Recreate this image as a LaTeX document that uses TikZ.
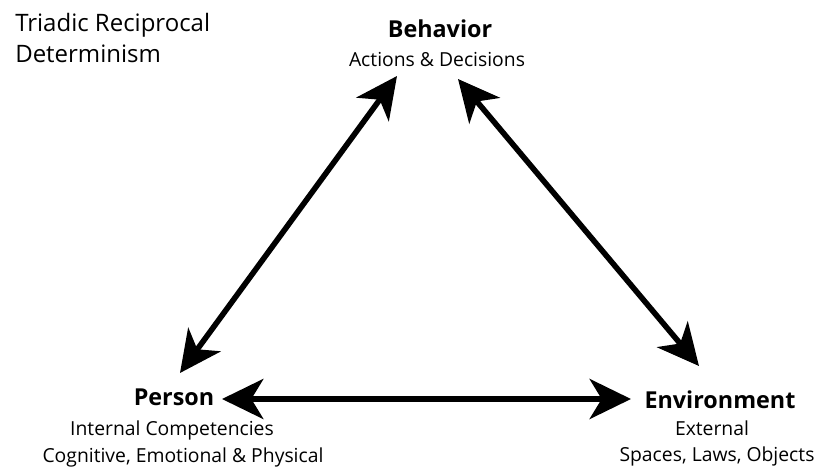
\documentclass[tikz,border=0pt]{standalone}
\usepackage{fontspec}
\setmainfont{Open Sans}
\usetikzlibrary{arrows.meta}
\begin{document}
\begin{tikzpicture}[x=0.75pt,y=-0.75pt,
  lbl/.style={font=\fontsize{14.5}{16}\selectfont, inner sep=0pt, anchor=base},
  ttl/.style={font=\fontsize{18}{16}\selectfont, inner sep=0pt, anchor=base west},
  hd/.style={font=\fontsize{17.5}{17}\selectfont\bfseries, inner sep=0pt, anchor=base},
  dbl/.style={line width=4.2pt, {Stealth[length=31pt,width=30pt,inset=9pt]}-{Stealth[length=31pt,width=30pt,inset=9pt]}}]
\useasboundingbox (0,0) rectangle (828,470);
\fill[white] (0,0) rectangle (828,470);
\node[ttl] (title1) at (15,32) {Triadic Reciprocal};
\node[ttl] (title2) at (15,63) {Determinism};
\node[hd] (beh) at (440,38) {Behavior};
\node[lbl] (behs) at (437,67) {Actions \& Decisions};
\node[hd] (per) at (174,405) {Person};
\node[lbl] (pers1) at (172,435) {Internal Competencies};
\node[lbl] (pers2) at (183,462) {Cognitive, Emotional \& Physical};
\node[hd] (env) at (720,408) {Environment};
\node[lbl] (envs1) at (712,435) {External};
\node[lbl] (envs2) at (717,461) {Spaces, Laws, Objects};
\coordinate (b1) at (397,76);
\coordinate (b2) at (458,79);
\coordinate (p1) at (180,373);
\coordinate (p2) at (222,399);
\coordinate (e1) at (699,366);
\coordinate (e2) at (631,399);
\draw[dbl] (b1) -- (p1);
\draw[dbl] (b2) -- (e1);
\draw[dbl] (p2) -- (e2);
\end{tikzpicture}
\end{document}
